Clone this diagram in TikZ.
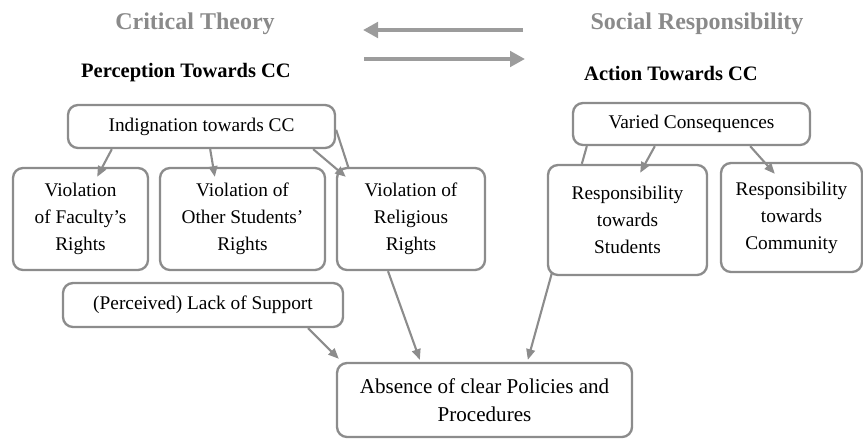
\documentclass[tikz,border=0pt]{standalone}
\usepackage{fontspec}
\setmainfont{Liberation Serif}
\usepackage{xcolor}
\usepackage{tikz}
\usetikzlibrary{arrows.meta,positioning}

\definecolor{boxgray}{HTML}{8C8C8C}
\definecolor{headgray}{HTML}{8A8A8A}
\definecolor{biggray}{HTML}{9C9C9C}

\begin{document}
\begin{tikzpicture}[x=0.3mm, y=-0.3mm,
    every node/.style={font=\fontsize{16.5}{23}\selectfont, align=center},
    cbox/.style={draw=boxgray, line width=2pt, rounded corners=3mm, fill=white, inner sep=0pt},
    link/.style={draw=boxgray, line width=1.8pt},
    arr/.style={link, -{Triangle[length=3.2mm,width=2.6mm]}},
    bigarr/.style={draw=biggray, line width=4.2pt, -{Triangle[length=4.5mm,width=4.6mm]}}]
  \useasboundingbox (0,0) rectangle (863,438);

  % headings
  \node[font=\fontsize{20.5}{24}\selectfont\bfseries, text=headgray] (ct) at (195,24) {Critical Theory};
  \node[font=\fontsize{20.5}{24}\selectfont\bfseries, text=headgray] (sr) at (697,24) {Social Responsibility};
  \node[font=\fontsize{17.5}{20}\selectfont\bfseries] (pt) at (186,73) {Perception Towards CC};
  \node[font=\fontsize{17.5}{20}\selectfont\bfseries] (at) at (671,73) {Action Towards CC};

  % the two theories point at one another
  \coordinate (ltip) at (363,30);
  \coordinate (ltail) at (523,30);
  \coordinate (rtail) at (364,59);
  \coordinate (rtip) at (525,59);
  \draw[bigarr] (ltail) -- (ltip);
  \draw[bigarr] (rtail) -- (rtip);

  % perception side
  \node[cbox, minimum width=80.1mm, minimum height=12.9mm] (ind) at (201.5,126.5) {Indignation towards CC};
  \foreach \nm/\x/\w/\txt in {fac/80.5/40.5mm/{Violation\\of Faculty's\\Rights},
                              oth/242.5/49.5mm/{Violation of\\Other Students'\\Rights},
                              rel/411/44.4mm/{Violation of\\Religious\\Rights}}{
    \node[cbox, minimum width=\w, minimum height=30.6mm] (\nm) at (\x,219) {\txt};
  }
  \node[cbox, minimum width=84mm, minimum height=13.2mm] (lack) at (203,305) {(Perceived) Lack of Support};

  % action side
  \node[cbox, minimum width=71.1mm, minimum height=12.6mm] (var) at (691.5,124) {Varied Consequences};
  \node[cbox, minimum width=47.7mm, minimum height=33mm] (stu) at (627.5,220) {Responsibility\\towards\\Students};
  \node[cbox, minimum width=42.3mm, minimum height=32.7mm] (com) at (791.5,217.5) {Responsibility\\towards\\Community};

  % outcome
  \node[cbox, minimum width=88.5mm, minimum height=22.2mm, font=\fontsize{18}{24}\selectfont] (abs) at (484.5,400) {Absence of clear Policies and\\Procedures};

  % connectors
  \draw[arr] ([xshift=-26.9mm]ind.south) -- ([xshift=5mm,yshift=-3mm]fac.north);
  \draw[arr] ([xshift=2.6mm]ind.south) -- ([xshift=-8.3mm,yshift=-3mm]oth.north);
  \draw[arr] ([xshift=33.5mm]ind.south) -- ([xshift=3mm,yshift=-3mm]rel.north west);
  \draw[link] ([yshift=-1mm]ind.east) -- ([xshift=3.9mm,yshift=-0.6mm]rel.north west);
  \draw[link] ([xshift=-31.4mm]var.south) -- ([xshift=-13.7mm]stu.north);
  \draw[arr] ([xshift=-11mm]var.south) -- ([xshift=3.8mm,yshift=-2.7mm]stu.north);
  \draw[arr] ([xshift=17.6mm]var.south) -- ([xshift=-5mm,yshift=-3.6mm]com.north);
  \draw[arr] ([xshift=31.5mm]lack.south) -- ([xshift=0.9mm,yshift=0.9mm]abs.north west);
  \draw[arr] ([xshift=-6.9mm]rel.south) -- ([xshift=-19.4mm,yshift=0.6mm]abs.north);
  \draw[arr] ([xshift=1.5mm,yshift=0.9mm]stu.south west) -- ([xshift=13mm,yshift=0.6mm]abs.north);
\end{tikzpicture}
\end{document}
